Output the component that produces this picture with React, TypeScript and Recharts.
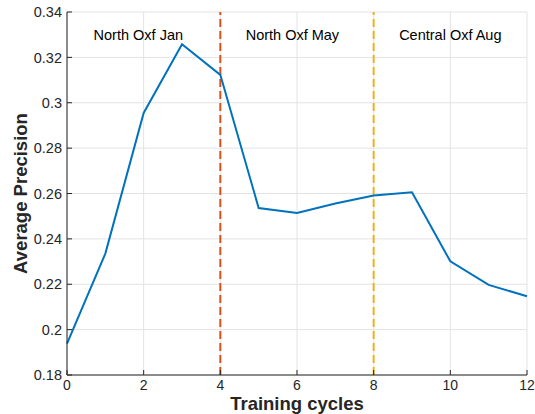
import React from 'react';
import { LineChart, Line, XAxis, YAxis, CartesianGrid, ReferenceLine, ReferenceDot, Label } from 'recharts';

const cycles = [0, 1, 2, 3, 4, 5, 6, 7, 8, 9, 10, 11, 12];
const precision = [0.1938, 0.2335, 0.2955, 0.3258, 0.3123, 0.2536, 0.2514, 0.2556, 0.2591, 0.2605, 0.2301, 0.2197, 0.2147];
const xTicks = [0, 2, 4, 6, 8, 10, 12];
const yTicks = [0.18, 0.2, 0.22, 0.24, 0.26, 0.28, 0.3, 0.32, 0.34];
const phaseBoundaries = [4, 8];
const phaseColors = ['#D95319', '#EDB120'];
const phaseNames = ['North Oxf Jan', 'North Oxf May', 'Central Oxf Aug'];
const phaseLabelX = [1.86, 5.88, 10];
const phaseLabelY = 0.33;

const data = cycles.map((c, i) => ({ cycle: c, ap: precision[i] }));

const FONT = '"Liberation Sans", Arial, Helvetica, sans-serif';
const AXIS = '#262626';
const M = 5;

const fmt = (v: number) => String(+v.toFixed(2));

const YTick = (props: any) => {
  const { x, y, payload } = props;
  return (
    <g>
      <line x1={x + M} x2={x + M + 5} y1={y} y2={y} stroke={AXIS} strokeWidth={1} />
      <text x={x} y={y} dy="0.36em" textAnchor="end" fontSize={14.5} fontFamily={FONT} fill={AXIS}>
        {fmt(payload.value)}
      </text>
    </g>
  );
};

const XTick = (props: any) => {
  const { x, y, payload } = props;
  return (
    <g>
      <line x1={x} x2={x} y1={y - M} y2={y - M - 5} stroke={AXIS} strokeWidth={1} />
      <text x={x} y={y} dy="0.72em" textAnchor="middle" fontSize={14} fontFamily={FONT} fill={AXIS}>
        {fmt(payload.value)}
      </text>
    </g>
  );
};

export default function App() {
  return (
    <div style={{ position: 'absolute', left: 0, top: 0 }}>
      <LineChart width={535} height={414} data={data} margin={{ top: 12, right: 8, bottom: 0, left: 0 }}>
        <CartesianGrid stroke="#e3e3e3" strokeWidth={1} />
        <XAxis
          dataKey="cycle"
          type="number"
          domain={[0, 12]}
          ticks={xTicks}
          height={39}
          tickSize={0}
          tickMargin={M}
          tickLine={false}
          axisLine={{ stroke: AXIS }}
          tick={<XTick />}
          interval={0}
        >
          <Label
            content={(p: any) => {
              const vb = p.viewBox;
              return (
                <text x={vb.x + vb.width / 2} y={410} textAnchor="middle" fontSize={18.5} fontWeight="bold" fontFamily={FONT} fill={AXIS}>
                  Training cycles
                </text>
              );
            }}
          />
        </XAxis>
        <YAxis
          type="number"
          domain={[0.18, 0.34]}
          ticks={yTicks}
          width={67}
          tickSize={0}
          tickMargin={M}
          tickLine={false}
          axisLine={{ stroke: AXIS }}
          tick={<YTick />}
          interval={0}
        >
          <Label
            content={(p: any) => {
              const vb = p.viewBox;
              const cy = vb.y + vb.height / 2;
              return (
                <text x={27} y={cy} transform={`rotate(-90 27 ${cy})`} textAnchor="middle" fontSize={18.5} fontWeight="bold" fontFamily={FONT} fill={AXIS}>
                  Average Precision
                </text>
              );
            }}
          />
        </YAxis>
        {phaseBoundaries.map((b, i) => (
          <ReferenceLine key={b} x={b} stroke={phaseColors[i]} strokeWidth={2} strokeDasharray="8 4" />
        ))}
        {phaseNames.map((n, i) => (
          <ReferenceDot key={n} x={phaseLabelX[i]} y={phaseLabelY} r={0} fill="none" stroke="none">
            <Label value={n} position="center" fontSize={14.5} fontFamily={FONT} fill="#000" />
          </ReferenceDot>
        ))}
        <Line type="linear" dataKey="ap" stroke="#0072BD" strokeWidth={2} dot={false} isAnimationActive={false} />
      </LineChart>
    </div>
  );
}
